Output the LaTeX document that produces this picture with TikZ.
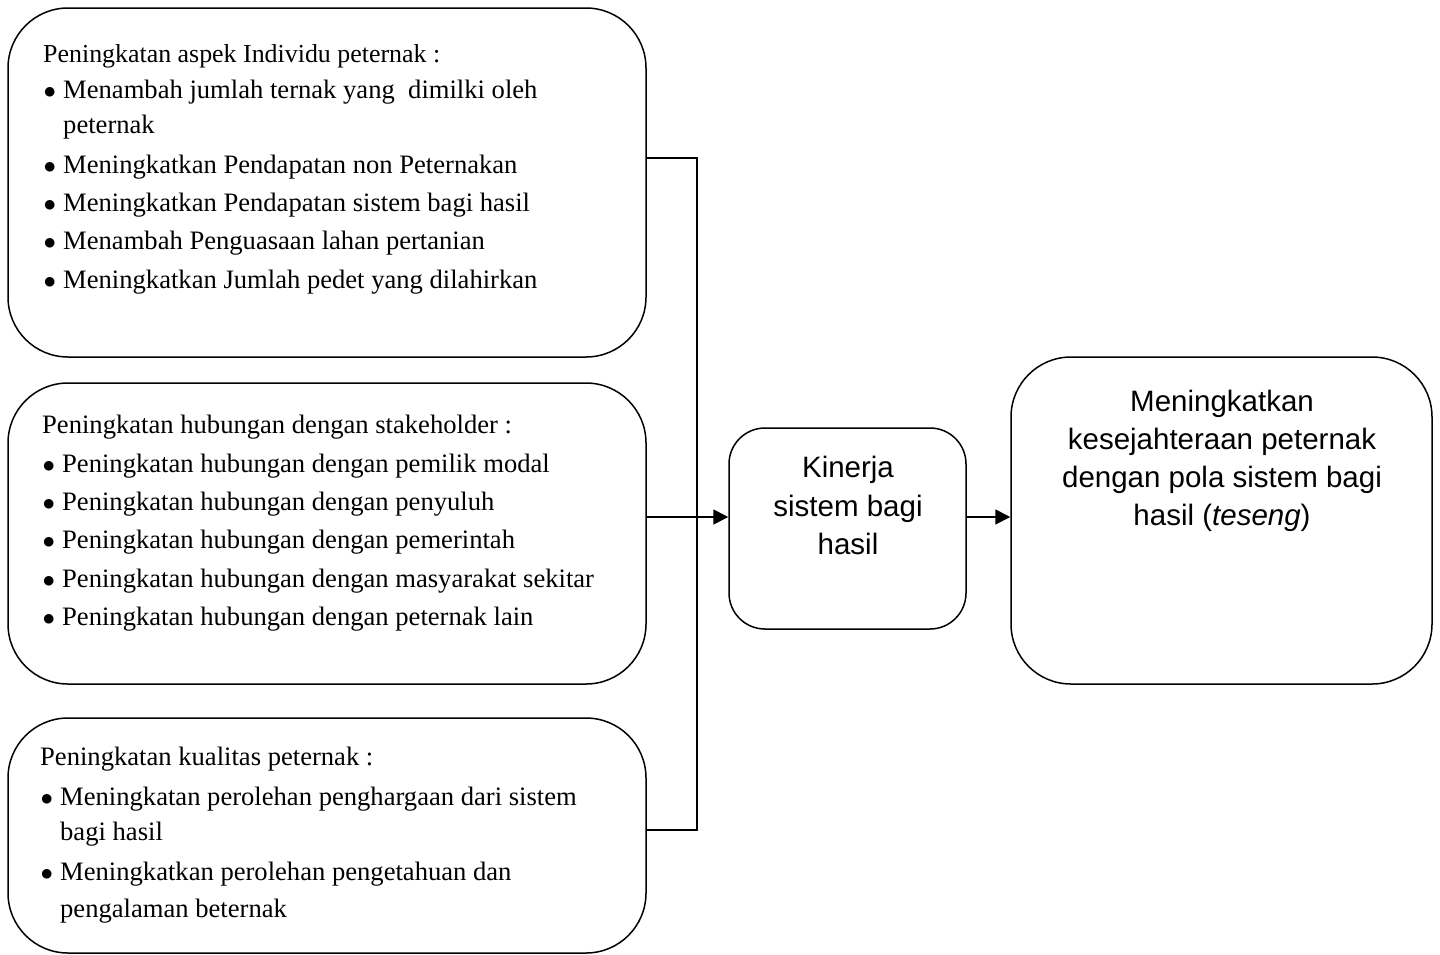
\documentclass[tikz,border=0pt]{standalone}
\usepackage{fontspec}
\setmainfont{Liberation Serif}
\setsansfont{Liberation Sans}
\usetikzlibrary{arrows.meta}
\newcommand{\bul}{\hbox to 20pt{\hskip0.5pt$\bullet$\hss}}
\newcommand{\cont}{\hspace*{20pt}}
\begin{document}
\begin{tikzpicture}[x=1pt,y=-1pt,
  box/.style={draw, line width=1.5pt, rounded corners=#1, inner sep=0pt},
  box/.default=60pt,
  lefttext/.style={anchor=north west, align=left, inner sep=0pt, font=\fontsize{26.6pt}{35pt}\selectfont},
  sanstext/.style={anchor=north, align=center, inner sep=0pt, font=\sffamily\fontsize{29.5pt}{38.5pt}\selectfont},
  conn/.style={line width=1.8pt},
  arr/.style={line width=1.8pt, -{Triangle[length=15pt,width=15pt]}}]
\useasboundingbox (0,0) rectangle (1440,954);
% boxes
\node[box, minimum width=638pt, minimum height=349pt] (b1) at (327,182.5) {};
\node[box, minimum width=638pt, minimum height=301pt] (b2) at (327,533.5) {};
\node[box, minimum width=638pt, minimum height=235pt] (b3) at (327,835.5) {};
\node[box=36pt, minimum width=237pt, minimum height=201pt] (k) at (847.5,528.5) {};
\node[box, minimum width=421pt, minimum height=327pt] (r) at (1221.5,520.5) {};
% texts
\node[lefttext] (t1) at (43,44.5) {{\fontsize{25.9pt}{35pt}\selectfont Peningkatan aspek Individu peternak :}\\[1pt]
\bul Menambah jumlah ternak yang\ \ dimilki oleh\\
\cont peternak\\[5pt]
\bul Meningkatkan Pendapatan non Peternakan\\[3pt]
\bul Meningkatkan Pendapatan sistem bagi hasil\\[3pt]
\bul Menambah Penguasaan lahan pertanian\\[3.5pt]
\bul Meningkatkan Jumlah pedet yang dilahirkan};
\node[lefttext] (t2) at (42,415) {Peningkatan hubungan dengan stakeholder :\\[3.4pt]
\bul Peningkatan hubungan dengan pemilik modal\\[3.4pt]
\bul Peningkatan hubungan dengan penyuluh\\[3.4pt]
\bul Peningkatan hubungan dengan pemerintah\\[3.4pt]
\bul Peningkatan hubungan dengan masyarakat sekitar\\[3.4pt]
\bul Peningkatan hubungan dengan peternak lain};
\node[lefttext] (t3) at (40,747) {Peningkatan kualitas peternak :\\[5pt]
\bul Meningkatan perolehan penghargaan dari sistem\\
\cont bagi hasil\\[5pt]
\bul Meningkatkan perolehan pengetahuan dan\\[2pt]
\cont pengalaman beternak};
\node[sanstext] (tk) at (848,456) {Kinerja\\sistem bagi\\hasil};
\node[sanstext, font=\sffamily\fontsize{29.5pt}{38.2pt}\selectfont] (tr) at (1222,389.5) {Meningkatkan\\kesejahteraan peternak\\dengan pola sistem bagi\\hasil (\textit{teseng})};
% connectors
\coordinate (j1) at (697,158);
\coordinate (j3) at (697,830);
\coordinate (ay) at (0,517);
\draw[conn] (b1.east |- j1) -- (j1) -- (j3) -- (b3.east |- j3);
\draw[arr] (b2.east |- ay) -- (k.west |- ay);
\draw[arr] (k.east |- ay) -- (r.west |- ay);
\end{tikzpicture}
\end{document}
